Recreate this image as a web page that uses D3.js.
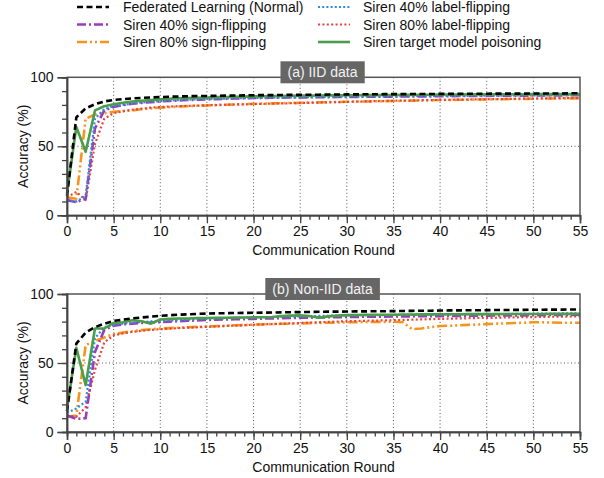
<!DOCTYPE html>
<html>
<head>
<meta charset="utf-8">
<script src="https://cdn.jsdelivr.net/npm/d3@7/dist/d3.min.js"></script>
<style>
  html, body { margin: 0; padding: 0; background: #fff; }
  svg { display: block; font-family: "Liberation Sans", Arial, Helvetica, sans-serif; }
</style>
</head>
<body>
<svg id="chart" width="604" height="478"></svg>
<script>
// Communication rounds 0..55
const rounds = d3.range(0, 56);
const xTicksMajor = [0, 5, 10, 15, 20, 25, 30, 35, 40, 45, 50, 55];
const yTicksMajor = [0, 50, 100];

const seriesNames = [
  "Federated Learning (Normal)",
  "Siren 40% sign-flipping",
  "Siren 80% sign-flipping",
  "Siren 40% label-flipping",
  "Siren 80% label-flipping",
  "Siren target model poisoning"
];

const panelTitles = ["(a) IID data", "(b) Non-IID data"];
const xLabel = "Communication Round";
const yLabel = "Accuracy (%)";

// ---- (a) IID data: accuracy (%) per round ----
const iidNormal = [14, 71, 77.5, 80.5, 82.5, 83.6, 84.2, 84.7, 85.1, 85.4, 85.7, 85.9, 86.1, 86.3, 86.4, 86.5, 86.6, 86.7, 86.8, 86.9,
  87, 87.1, 87.1, 87.2, 87.3, 87.3, 87.4, 87.4, 87.5, 87.5, 87.6, 87.6, 87.7, 87.7, 87.8, 87.8, 87.8, 87.9, 87.9, 87.9,
  88, 88, 88, 88.1, 88.1, 88.1, 88.2, 88.2, 88.2, 88.2, 88.3, 88.3, 88.3, 88.3, 88.4, 88.4];
const iidSign40 = [11, 9.5, 12, 63, 76, 78.5, 79.8, 80.8, 81.5, 82, 82.5, 82.9, 83.2, 83.5, 83.8, 84, 84.2, 84.4, 84.6, 84.8,
  85, 85.1, 85.2, 85.3, 85.4, 85.4, 85.5, 85.5, 85.6, 85.7, 85.8, 85.8, 85.9, 85.9, 86, 86, 86.1, 86.1, 86.2, 86.2,
  86.3, 86.3, 86.4, 86.4, 86.5, 86.5, 86.6, 86.6, 86.7, 86.7, 86.8, 86.8, 86.9, 86.9, 87, 87];
const iidSign80 = [13, 12, 70, 73, 74, 75, 75.5, 76, 76.8, 77.5, 78, 78.4, 78.8, 79.1, 79.4, 79.6, 79.9, 80.1, 80.3, 80.5,
  80.8, 80.9, 81.1, 81.2, 81.4, 81.5, 81.7, 81.8, 82, 82.1, 82.3, 82.4, 82.5, 82.6, 82.7, 82.8, 82.9, 83.1, 83.2, 83.4,
  83.5, 83.6, 83.7, 83.8, 83.9, 84, 84.1, 84.2, 84.3, 84.4, 84.5, 84.6, 84.6, 84.7, 84.7, 84.8];
const iidLabel40 = [11, 10, 14, 70, 77, 79, 80, 81, 81.8, 82.3, 82.8, 83.2, 83.5, 83.8, 84.1, 84.3, 84.5, 84.6, 84.8, 84.9,
  85, 85.1, 85.2, 85.3, 85.4, 85.5, 85.6, 85.7, 85.8, 85.9, 86, 86, 86.1, 86.1, 86.2, 86.2, 86.3, 86.3, 86.4, 86.4,
  86.5, 86.5, 86.6, 86.6, 86.7, 86.7, 86.7, 86.8, 86.8, 86.8, 86.9, 86.9, 86.9, 87, 87, 87];
const iidLabel80 = [13, 17, 11, 52, 70, 74, 75.5, 76.5, 77.3, 78, 78.5, 78.8, 79.1, 79.3, 79.5, 79.7, 79.9, 80.1, 80.3, 80.4,
  80.6, 80.8, 80.9, 81.1, 81.2, 81.4, 81.5, 81.7, 81.9, 82, 82.2, 82.4, 82.5, 82.7, 82.8, 83, 83.1, 83.2, 83.4, 83.5,
  83.6, 83.7, 83.8, 83.9, 84, 84.1, 84.2, 84.3, 84.4, 84.5, 84.6, 84.7, 84.8, 84.9, 84.9, 85];
const iidTarget = [16, 64, 46, 76, 79, 80.5, 81.5, 82.5, 83, 83.5, 84, 84.5, 84.8, 85, 85.2, 85.4, 85.6, 85.7, 85.9, 86,
  86.2, 86.3, 86.4, 86.5, 86.6, 86.7, 86.7, 86.8, 86.9, 86.9, 87, 87, 87.1, 87.1, 87.2, 87.2, 87.3, 87.3, 87.4, 87.4,
  87.5, 87.5, 87.5, 87.6, 87.6, 87.6, 87.7, 87.7, 87.7, 87.7, 87.8, 87.8, 87.8, 87.8, 87.8, 87.8];

// ---- (b) Non-IID data: accuracy (%) per round ----
const niidNormal = [15, 64, 72, 76, 78.5, 80.5, 81.5, 82.3, 83, 83.6, 84.2, 84.6, 85, 85.3, 85.6, 85.8, 86, 86.1, 86.2, 86.3,
  86.4, 86.5, 86.6, 86.7, 86.8, 86.9, 87, 87.1, 87.2, 87.2, 87.3, 87.4, 87.4, 87.5, 87.5, 87.6, 87.7, 87.8, 87.9, 87.9,
  88, 88.1, 88.1, 88.2, 88.2, 88.3, 88.4, 88.4, 88.5, 88.5, 88.6, 88.6, 88.7, 88.7, 88.8, 88.8];
const niidSign40 = [12, 9.5, 10, 58, 74, 77, 78, 78.5, 79, 79.3, 79.6, 80, 80.3, 80.6, 80.9, 81.2, 81.4, 81.5, 81.7, 81.8,
  82, 82.2, 82.3, 82.5, 82.6, 82.8, 82.9, 83, 83.1, 83.2, 83.3, 83.4, 83.5, 83.5, 83.6, 83.7, 83.8, 83.8, 83.9, 83.9,
  84, 84.1, 84.1, 84.2, 84.2, 84.3, 84.4, 84.4, 84.5, 84.5, 84.6, 84.7, 84.8, 84.8, 84.9, 85];
const niidSign80 = [11, 12, 63, 66, 68.5, 71, 72, 73, 73.8, 74.5, 75, 75.3, 75.6, 75.9, 76.2, 76.4, 76.7, 77, 77.3, 77.5,
  77.8, 78, 78.2, 78.4, 78.5, 78.7, 78.9, 79, 79.2, 79.3, 79.5, 79.6, 79.7, 79.8, 79.8, 79.9, 79.5, 74.5, 75, 76,
  76.8, 77, 77.3, 77.6, 77.9, 78.2, 78.5, 78.7, 79, 79.2, 79.5, 79.5, 79.3, 79.2, 79.2, 79.2];
const niidLabel40 = [14, 17, 22, 68, 76, 77.5, 78.5, 79.2, 79.7, 80.1, 80.5, 80.8, 81.1, 81.4, 81.7, 82, 82.2, 82.4, 82.6, 82.8,
  83, 83.2, 83.3, 83.5, 83.6, 83.8, 83.9, 84.1, 84.2, 84.4, 84.5, 84.6, 84.6, 84.7, 84.7, 84.8, 84.9, 84.9, 85, 85,
  85.1, 85.2, 85.2, 85.3, 85.3, 85.4, 85.5, 85.5, 85.6, 85.6, 85.7, 85.8, 85.8, 85.9, 85.9, 86];
const niidLabel80 = [12, 11, 18, 45, 65, 70, 71.5, 72.5, 73.3, 74, 74.5, 74.9, 75.3, 75.6, 75.9, 76.2, 76.5, 76.8, 77.1, 77.4,
  77.7, 78, 78.2, 78.5, 78.7, 79, 79.3, 79.5, 79.8, 80, 80.3, 80.4, 80.6, 80.7, 80.9, 81, 81.2, 81.4, 81.6, 81.8,
  82, 82.1, 82.3, 82.4, 82.6, 82.7, 82.8, 83, 83.1, 83.2, 83.3, 83.4, 83.5, 83.6, 83.7, 83.8];
const niidTarget = [17, 61, 34, 75, 75, 79, 79.5, 81, 80.3, 78.5, 81.5, 82, 82.2, 82.3, 82.5, 82.6, 82.7, 82.8, 82.9, 83,
  83.1, 83.2, 83.3, 84, 84.3, 84.5, 84, 82.8, 83.8, 84.3, 84.7, 84.8, 84.9, 85, 85, 85, 85.1, 85.1, 85.2, 85.2,
  85.3, 85.3, 85.3, 85.4, 85.4, 85.4, 85.4, 85.5, 85.5, 85.5, 85.5, 85.5, 85.6, 85.6, 85.6, 85.6];

// Line styles per series (same order as seriesNames)
const styles = [
  { color: "#000000", width: 2.6, dash: "6,3.5" },
  { color: "#9a3db8", width: 2.6, dash: "9,3,2,3" },
  { color: "#f7941d", width: 2.6, dash: "10,3,2,3,2,3" },
  { color: "#2b8ce6", width: 2.2, dash: "2,2.2" },
  { color: "#e8443a", width: 2.2, dash: "2,2.4" },
  { color: "#4a9d4a", width: 2.6, dash: null }
];
// draw order: orange, red, purple, blue, green, black
const drawOrder = [2, 4, 1, 3, 5, 0];

const panels = [
  { title: panelTitles[0], top: 77.3, series: [iidNormal, iidSign40, iidSign80, iidLabel40, iidLabel80, iidTarget] },
  { title: panelTitles[1], top: 294, series: [niidNormal, niidSign40, niidSign80, niidLabel40, niidLabel80, niidTarget] }
];

const svg = d3.select("#chart");
const left = 67, right = 580, plotH = 138;
const axisColor = "#444";

const x = d3.scaleLinear().domain([0, 55]).range([left, right]);

panels.forEach(p => {
  const y = d3.scaleLinear().domain([0, 100]).range([p.top + plotH, p.top]);
  const g = svg.append("g");

  // dotted grid: vertical every 5 rounds, horizontal at 50
  g.append("g").selectAll("line")
    .data(xTicksMajor.filter(d => d > 0 && d < 55))
    .join("line")
    .attr("x1", d => x(d)).attr("x2", d => x(d))
    .attr("y1", y(100)).attr("y2", y(0))
    .attr("stroke", "#555").attr("stroke-width", 1).attr("stroke-dasharray", "1,2.5");
  g.append("line")
    .attr("x1", x(0)).attr("x2", x(55))
    .attr("y1", y(50)).attr("y2", y(50))
    .attr("stroke", "#555").attr("stroke-width", 1).attr("stroke-dasharray", "1,2.5");

  // series lines
  const line = d3.line().x((d, i) => x(rounds[i])).y(d => y(d));
  drawOrder.forEach(k => {
    const s = styles[k];
    g.append("path")
      .datum(p.series[k])
      .attr("d", line)
      .attr("fill", "none")
      .attr("stroke", s.color)
      .attr("stroke-width", s.width)
      .attr("stroke-linejoin", "round")
      .attr("stroke-dasharray", s.dash);
  });

  // frame (top and right border)
  g.append("rect")
    .attr("x", x(0)).attr("y", y(100))
    .attr("width", x(55) - x(0)).attr("height", y(0) - y(100))
    .attr("fill", "none").attr("stroke", "#555").attr("stroke-width", 1.5);

  // bottom axis: minor and major ticks
  const xMinor = d3.axisBottom(x).tickValues(rounds).tickSize(4.5).tickFormat("");
  const xMajor = d3.axisBottom(x).tickValues(xTicksMajor).tickSize(8).tickPadding(3).tickFormat(d3.format("d"));
  [xMinor, xMajor].forEach(ax => {
    const a = g.append("g").attr("transform", `translate(0,${y(0)})`).call(ax);
    a.select(".domain").attr("stroke", axisColor).attr("stroke-width", 1.5);
    a.selectAll(".tick line").attr("stroke", axisColor).attr("stroke-width", 1.3);
    a.selectAll("text").attr("font-size", 14).attr("fill", "#111")
      .attr("font-family", "'Liberation Sans', Arial, sans-serif");
  });

  // left axis: minor and major ticks
  const yMinor = d3.axisLeft(y).tickValues(d3.range(0, 101, 10)).tickSize(5).tickFormat("");
  const yMajor = d3.axisLeft(y).tickValues(yTicksMajor).tickSize(9.5).tickPadding(4).tickFormat(d3.format("d"));
  [yMinor, yMajor].forEach(ax => {
    const a = g.append("g").attr("transform", `translate(${x(0)},0)`).call(ax);
    a.select(".domain").attr("stroke", axisColor).attr("stroke-width", 1.5);
    a.selectAll(".tick line").attr("stroke", axisColor).attr("stroke-width", 1.3);
    a.selectAll("text").attr("font-size", 14).attr("fill", "#111")
      .attr("font-family", "'Liberation Sans', Arial, sans-serif");
  });

  // axis titles
  g.append("text")
    .attr("x", (left + right) / 2).attr("y", y(0) + 39.5)
    .attr("text-anchor", "middle").attr("font-size", 14).attr("fill", "#111")
    .text(xLabel);
  g.append("text")
    .attr("transform", `translate(27.5,${(y(0) + y(100)) / 2}) rotate(-90)`)
    .attr("text-anchor", "middle").attr("font-size", 14).attr("fill", "#111")
    .text(yLabel);

  // panel title box
  const cx = (left + right) / 2 - 1;
  const tg = g.append("g");
  const box = tg.append("rect").attr("fill", "#666");
  const t = tg.append("text")
    .attr("x", cx).attr("y", y(100) - 0.5)
    .attr("text-anchor", "middle").attr("font-size", 14).attr("fill", "#f2f2f2")
    .text(p.title);
  const bb = t.node().getBBox();
  box.attr("x", bb.x - 7).attr("y", y(100) - 16)
    .attr("width", bb.width + 14).attr("height", 22);
});

// legend: two columns, three rows
const legendPos = [
  { lx: 77, tx: 123, y: 7 }, { lx: 77, tx: 123, y: 24.5 }, { lx: 77, tx: 123, y: 42 },
  { lx: 318, tx: 363, y: 7 }, { lx: 318, tx: 363, y: 24.5 }, { lx: 318, tx: 363, y: 42 }
];
const legendOrder = [0, 1, 2, 3, 4, 5];
const lg = svg.append("g");
legendOrder.forEach((k, i) => {
  const pos = legendPos[i];
  const s = styles[k];
  lg.append("line")
    .attr("x1", pos.lx).attr("x2", pos.lx + 32)
    .attr("y1", pos.y).attr("y2", pos.y)
    .attr("stroke", s.color).attr("stroke-width", s.width)
    .attr("stroke-dasharray", s.dash);
  lg.append("text")
    .attr("x", pos.tx).attr("y", pos.y + 5)
    .attr("font-size", 14).attr("fill", "#111")
    .text(seriesNames[k]);
});
</script>
</body>
</html>
